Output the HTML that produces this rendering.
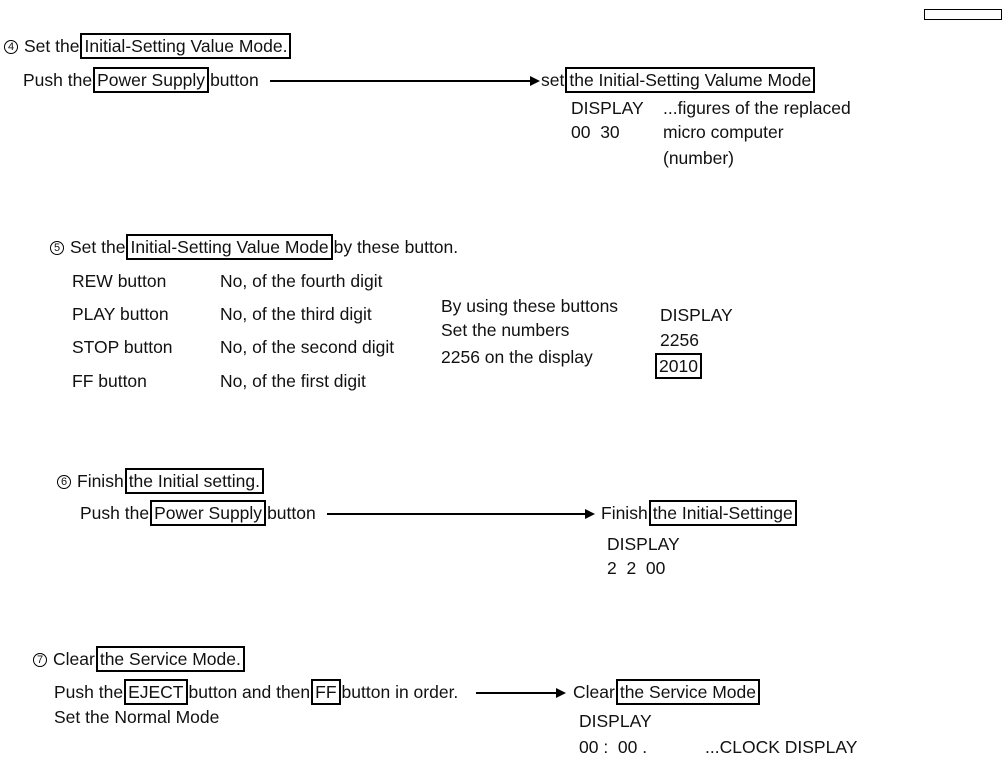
<!DOCTYPE html>
<html><head><meta charset="utf-8"><style>
body{margin:0;width:1003px;height:760px;background:#fff;position:relative;overflow:hidden;font-family:"Liberation Sans","DejaVu Sans",sans-serif;font-size:17.5px;color:#111}
.t{position:absolute;line-height:22px;white-space:nowrap}
.b{border:2px solid #000;padding:1px 2px;margin:0 1px}
.c{font-size:11px;display:inline-block;width:12px;height:12px;border:1px solid #000;border-radius:50%;text-align:center;line-height:12px;vertical-align:2px;margin-right:6px}
.ar{position:absolute;height:1.5px;background:#000}
.ar:after{content:"";position:absolute;right:-2px;top:-4px;border-left:10px solid #000;border-top:5px solid transparent;border-bottom:5px solid transparent}
</style></head><body>
<div style="position:absolute;left:924px;top:9px;width:76px;height:9px;border:1px solid #000"></div>

<div class="t" style="left:4px;top:35px"><span class="c">4</span>Set the<span class="b">Initial-Setting Value Mode.</span></div>
<div class="t" style="left:23px;top:69px">Push the<span class="b">Power Supply</span>button</div>
<div class="ar" style="left:270px;top:80px;width:268px"></div>
<div class="t" style="left:541px;top:69px">set<span class="b">the Initial-Setting Valume Mode </span></div>
<div class="t" style="left:571px;top:97px">DISPLAY</div>
<div class="t" style="left:571px;top:121px">00&nbsp; 30</div>
<div class="t" style="left:663px;top:97px">...figures of the replaced</div>
<div class="t" style="left:663px;top:121px">micro computer</div>
<div class="t" style="left:663px;top:147px">(number)</div>

<div class="t" style="left:50px;top:236px"><span class="c">5</span>Set the<span class="b">Initial-Setting Value Mode</span>by these button.</div>
<div class="t" style="left:72px;top:270px">REW button</div>
<div class="t" style="left:72px;top:303px">PLAY button</div>
<div class="t" style="left:72px;top:336px">STOP button</div>
<div class="t" style="left:72px;top:370px">FF button</div>
<div class="t" style="left:220px;top:270px">No, of the fourth digit</div>
<div class="t" style="left:220px;top:303px">No, of the third digit</div>
<div class="t" style="left:220px;top:336px">No, of the second digit</div>
<div class="t" style="left:220px;top:370px">No, of the first digit</div>
<div class="t" style="left:441px;top:295px">By using these buttons</div>
<div class="t" style="left:441px;top:319px">Set the numbers</div>
<div class="t" style="left:441px;top:346px">2256 on the display</div>
<div class="t" style="left:660px;top:304px">DISPLAY</div>
<div class="t" style="left:660px;top:329px">2256</div>
<div class="t" style="left:654px;top:355px"><span class="b">2010</span></div>

<div class="t" style="left:57px;top:470px"><span class="c">6</span>Finish<span class="b">the Initial setting. </span></div>
<div class="t" style="left:80px;top:502px">Push the<span class="b">Power Supply</span>button</div>
<div class="ar" style="left:327px;top:513px;width:266px"></div>
<div class="t" style="left:601px;top:502px">Finish<span class="b">the Initial-Settinge </span></div>
<div class="t" style="left:607px;top:533px">DISPLAY</div>
<div class="t" style="left:607px;top:557px">2&nbsp; 2&nbsp; 00</div>

<div class="t" style="left:33px;top:648px"><span class="c">7</span>Clear<span class="b">the Service Mode. </span></div>
<div class="t" style="left:54px;top:681px">Push the<span class="b">EJECT</span>button and then<span class="b">FF</span>button in order.</div>
<div class="ar" style="left:476px;top:692px;width:88px"></div>
<div class="t" style="left:573px;top:681px">Clear<span class="b">the Service Mode </span></div>
<div class="t" style="left:54px;top:706px">Set the Normal Mode</div>
<div class="t" style="left:579px;top:710px">DISPLAY</div>
<div class="t" style="left:579px;top:736px">00 :&nbsp; 00 .</div>
<div class="t" style="left:705px;top:736px">...CLOCK DISPLAY</div>
</body></html>
